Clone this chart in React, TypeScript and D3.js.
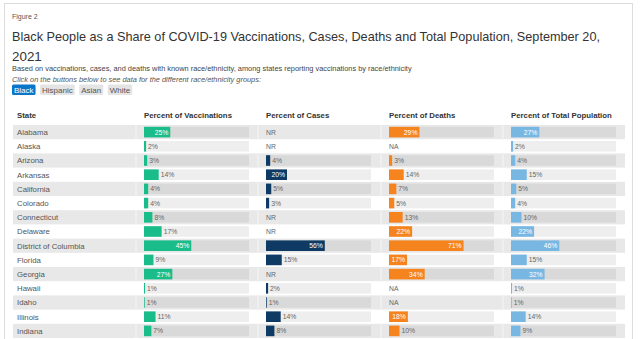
import React from "react";
import * as d3 from "d3";

const states = ["Alabama","Alaska","Arizona","Arkansas","California","Colorado","Connecticut","Delaware","District of Columbia","Florida","Georgia","Hawaii","Idaho","Illinois","Indiana"];
// null = NR / NA
const vaccinations: (number|null)[] = [25,2,3,14,4,4,8,16.8,45,9,27,1,0.7,11,7];
const cases: (number|null)[] = [null,null,4,20,5,3,null,null,56,15,null,2,0.7,14,8];
const deaths: (number|null)[] = [29,null,3,14,7,5,13,22,71,17.2,34,null,null,18,10];
const population: (number|null)[] = [27,2,4,15,5,4,10,22,46,15,32,1,0.7,14,9];

const columnTitles = ["Percent of Vaccinations","Percent of Cases","Percent of Deaths","Percent of Total Population"];
const missingLabels = ["NR","NR","NA","NA"];
const buttons = ["Black","Hispanic","Asian","White"];

const FONT = "'Liberation Sans', Arial, Helvetica, sans-serif";

export default function App() {
  const series = [vaccinations, cases, deaths, population];
  const colors = ["#1abc8a","#0e3a63","#f5841f","#79b7e3"];
  const colX = [144, 266, 389, 511];
  const rowTop = 125;
  const rowH = 14.2;
  const y = d3.scaleBand<string>().domain(states).range([rowTop, rowTop + rowH * states.length]).padding(0);
  const w = d3.scaleLinear().domain([0, 100]).range([0, 105]);
  const trackInset = 1.8;
  const trackH = 10.6;

  const btnFont = 8;
  const measure = (s: string) => {
    const m: Record<string, number> = {B:.667,l:.222,a:.556,c:.5,k:.5,H:.722,i:.222,s:.5,p:.556,n:.556,A:.667,W:.944,h:.556,t:.278,e:.556};
    return s.split("").reduce((acc, ch) => acc + (m[ch] ?? .55), 0) * btnFont;
  };
  let bx = 12;
  const btns = buttons.map((b, i) => {
    const tw = measure(b);
    const r = { label: b, x: bx, w: tw + 4, active: i === 0 };
    bx += tw + 4 + 4.5;
    return r;
  });

  return (
    <svg width={643} height={339} style={{ position: "absolute", left: 0, top: 0, fontFamily: FONT }}>
      <rect x={0} y={0} width={643} height={339} fill="#fff" />
      <rect x={4.5} y={3.5} width={628} height={345} fill="none" stroke="#dcdcdc" />
      <text x={12} y={19} fontSize={7} fill="#555">Figure 2</text>
      <text x={12} y={41} fontSize={13.4} fill="#333" textLength={588} lengthAdjust="spacingAndGlyphs">Black People as a Share of COVID-19 Vaccinations, Cases, Deaths and Total Population, September 20,</text>
      <text x={12} y={61} fontSize={13.4} fill="#333">2021</text>
      <text x={12} y={70.5} fontSize={7.4} fill="#444">Based on vaccinations, cases, and deaths with known race/ethnicity, among states reporting vaccinations by race/ethnicity</text>
      <text x={12} y={82} fontSize={7.4} fill="#555" fontStyle="italic">Click on the buttons below to see data for the different race/ethnicity groups:</text>
      {btns.map(b => (
        <g key={b.label}>
          <rect x={b.x} y={84.5} width={b.w} height={10.5} rx={1.5} fill={b.active ? "#0a76c9" : "#e4e4e4"} />
          <text x={b.x + b.w / 2} y={92.8} fontSize={btnFont} textAnchor="middle" fill={b.active ? "#fff" : "#555"}>{b.label}</text>
        </g>
      ))}

      <text x={17} y={118} fontSize={7.8} fontWeight="bold" fill="#333">State</text>
      {columnTitles.map((t, c) => (
        <text key={t} x={colX[c]} y={118} fontSize={7.8} fontWeight="bold" fill="#333">{t}</text>
      ))}

      {states.map((s, r) => {
        const top = y(s)!;
        const odd = r % 2 === 0;
        return (
          <g key={s}>
            {odd && <rect x={13} y={top} width={612} height={y.bandwidth()} fill="#e8e8e8" />}
            {odd && colX.map(cx => (
              <rect key={cx} x={cx - 9} y={top} width={2} height={y.bandwidth()} fill="#efefef" />
            ))}
            <text x={17} y={top + y.bandwidth() / 2 + 2.8} fontSize={7.8} fill="#555">{s}</text>
            {series.map((arr, c) => {
              const v = arr[r];
              const x0 = colX[c];
              if (v === null) {
                return <text key={c} x={x0} y={top + y.bandwidth() / 2 + 2.5} fontSize={6.8} fill="#666">{missingLabels[c]}</text>;
              }
              const bw = w(v);
              const inside = v > 17;
              const label = `${Math.round(v)}%`;
              return (
                <g key={c}>
                  <rect x={x0} y={top + trackInset} width={w(100)} height={trackH} fill={odd ? "#d9d9d9" : "#eeeeee"} />
                  <rect x={x0} y={top + trackInset} width={bw} height={trackH} fill={colors[c]} />
                  <text x={inside ? x0 + bw - 2 : x0 + bw + 2} y={top + y.bandwidth() / 2 + 2.5} fontSize={6.8}
                        textAnchor={inside ? "end" : "start"} fill={inside ? "#fff" : "#666"}>{label}</text>
                </g>
              );
            })}
          </g>
        );
      })}
    </svg>
  );
}
